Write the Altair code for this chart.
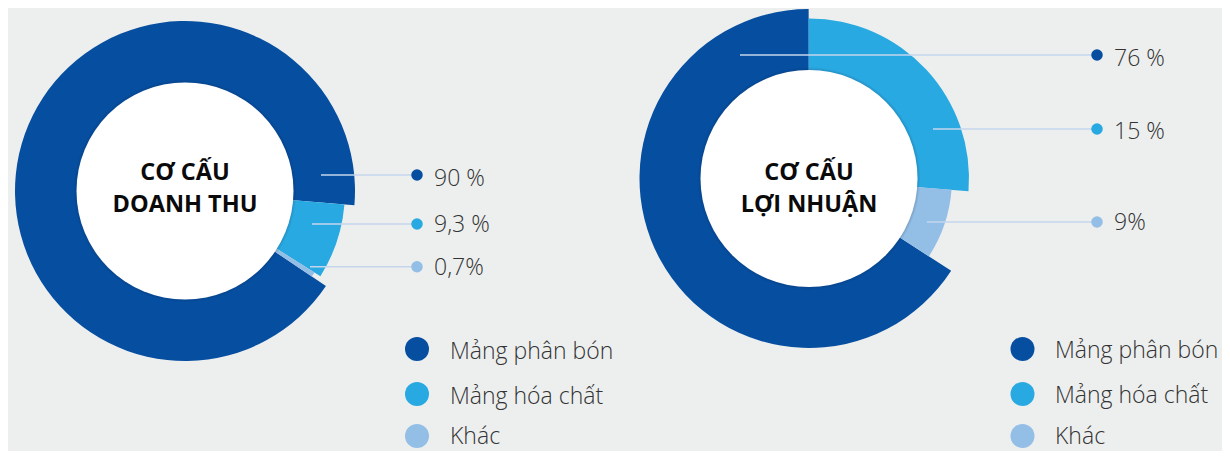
import math
import altair as alt
import pandas as pd

# ---------------- data ----------------
segments = ["Mảng phân bón", "Mảng hóa chất", "Khác"]
colors = ["#064EA0", "#29A9E1", "#93BEE5"]

# shares of the ring as drawn in the picture (percent of the full circle)
rev_share = [91.9, 7.6, 0.5]
rev_labels = ["90 %", "9,3 %", "0,7%"]
rev_title = ["CƠ CẤU", "DOANH THU"]

prof_share = [65.8, 26.3, 7.9]
prof_labels = ["76 %", "15 %", "9%"]
prof_title = ["CƠ CẤU", "LỢI NHUẬN"]

# ---------------- layout (page pixels) ----------------
OX, OY = 8, 8
W, H = 1214, 443
BG = "#EDEFEF"
LINE_COLOR = "#C5D6EC"
FONT = "Open Sans"

donuts = [
    dict(share=rev_share, labels=rev_labels, title=rev_title,
         cx=185, cy=191, start=124, outer=[170, 160, 153],
         line_x=[321, 312, 310], line_y=[175, 224, 266.7],
         dot_x=417, text_x=434, text_base=[186, 232, 274.5],
         leg_x=417, leg_text_x=450, leg_y=[349, 394, 436],
         leg_base=[358.5, 403.5, 444], title_base=[180, 212]),
    dict(share=prof_share, labels=prof_labels, title=prof_title,
         cx=809, cy=178.5, start=123, outer=[169.5, 160, 143],
         line_x=[740, 933, 927], line_y=[55, 129, 222],
         dot_x=1097, text_x=1114, text_base=[66, 138.5, 229.5],
         leg_x=1022.5, leg_text_x=1055, leg_y=[349, 394, 436],
         leg_base=[357.5, 402.5, 444], title_base=[180, 212]),
]

color_scale = alt.Scale(domain=segments, range=colors)
px = lambda X: X - OX
py = lambda Y: Y - OY
sym = lambda diameter: diameter ** 2  # vega symbol size = bounding-box area


def donut_layer(d):
    df = pd.DataFrame({"segment": segments, "share": d["share"],
                       "order": list(range(len(segments)))})
    total = float(sum(d["share"]))
    a0 = math.radians(d["start"])
    base = alt.Chart(df).transform_stack(
        stack="share", groupby=[], as_=["s0", "s1"],
        sort=[alt.SortField("order")])
    layers = []
    for seg, R in zip(segments, d["outer"]):
        layers.append(
            base.transform_filter(alt.datum.segment == seg)
            .mark_arc(innerRadius=100, outerRadius=R, stroke=None)
            .encode(
                theta=alt.Theta("s0:Q", scale=alt.Scale(domain=[0, total], range=[a0, a0 + 2 * math.pi])),
                theta2="s1:Q",
                color=alt.Color("segment:N", scale=color_scale, legend=None),
                x=alt.value(px(d["cx"])), y=alt.value(py(d["cy"])),
            )
        )
    center = pd.DataFrame({"x": [px(d["cx"])], "y": [py(d["cy"])]})
    shadow = alt.Chart(center).mark_circle(size=sym(2 * 111), color="#1a2a40",
                                          opacity=0.07, stroke=None).encode(
        x=alt.X("x:Q", scale=None), y=alt.Y("y:Q", scale=None))
    shadow2 = alt.Chart(center).mark_circle(size=sym(2 * 109.8), color="#1a2a40",
                                           opacity=0.08, stroke=None).encode(
        x=alt.X("x:Q", scale=None), y=alt.Y("y:Q", scale=None))
    white = alt.Chart(center).mark_circle(size=sym(2 * 108.5), color="white",
                                         opacity=1, stroke=None).encode(
        x=alt.X("x:Q", scale=None), y=alt.Y("y:Q", scale=None))
    tdf = pd.DataFrame({"t": d["title"], "x": [px(d["cx"])] * 2,
                        "y": [py(v) for v in d["title_base"]]})
    title = alt.Chart(tdf).mark_text(font=FONT, fontSize=23.5, fontWeight="bold",
                                     color="#0a0a0a", align="center",
                                     baseline="alphabetic").encode(
        x=alt.X("x:Q", scale=None), y=alt.Y("y:Q", scale=None), text="t:N")
    return alt.layer(*layers, shadow, shadow2, white, title)


def annotation_layer(d):
    ldf = pd.DataFrame({
        "segment": segments,
        "x": [px(v) for v in d["line_x"]],
        "x2": [px(d["dot_x"])] * 3,
        "y": [py(v) for v in d["line_y"]],
        "ty": [py(v) for v in d["text_base"]],
        "tx": [px(d["text_x"])] * 3,
        "label": d["labels"],
    })
    rules = alt.Chart(ldf).mark_rule(color=LINE_COLOR, strokeWidth=1.5).encode(
        x=alt.X("x:Q", scale=None), x2="x2:Q", y=alt.Y("y:Q", scale=None))
    dots = alt.Chart(ldf).mark_circle(size=sym(11.5), opacity=1).encode(
        x=alt.X("x2:Q", scale=None), y=alt.Y("y:Q", scale=None),
        color=alt.Color("segment:N", scale=color_scale, legend=None))
    texts = alt.Chart(ldf).mark_text(font=FONT, fontSize=23, fontWeight=300,
                                     color="#333333", align="left",
                                     baseline="alphabetic").encode(
        x=alt.X("tx:Q", scale=None), y=alt.Y("ty:Q", scale=None), text="label:N")
    gdf = pd.DataFrame({
        "segment": segments,
        "x": [px(d["leg_x"])] * 3,
        "y": [py(v) for v in d["leg_y"]],
        "tx": [px(d["leg_text_x"])] * 3,
        "ty": [py(v) for v in d["leg_base"]],
    })
    leg_dots = alt.Chart(gdf).mark_circle(size=sym(24), opacity=1).encode(
        x=alt.X("x:Q", scale=None), y=alt.Y("y:Q", scale=None),
        color=alt.Color("segment:N", scale=color_scale, legend=None))
    leg_text = alt.Chart(gdf).mark_text(font=FONT, fontSize=23, fontWeight=300,
                                        color="#333333", align="left",
                                        baseline="alphabetic").encode(
        x=alt.X("tx:Q", scale=None), y=alt.Y("ty:Q", scale=None), text="segment:N")
    return alt.layer(rules, dots, texts, leg_dots, leg_text)


chart = alt.layer(
    donut_layer(donuts[0]),
    donut_layer(donuts[1]),
    annotation_layer(donuts[0]),
    annotation_layer(donuts[1]),
).resolve_scale(theta="independent").properties(
    width=W, height=H, padding=0,
    autosize=alt.AutoSizeParams(type="none"),
    background=BG,
).configure_view(stroke=None)

chart.save("out.html", embed_options={"renderer": "svg", "actions": False})
